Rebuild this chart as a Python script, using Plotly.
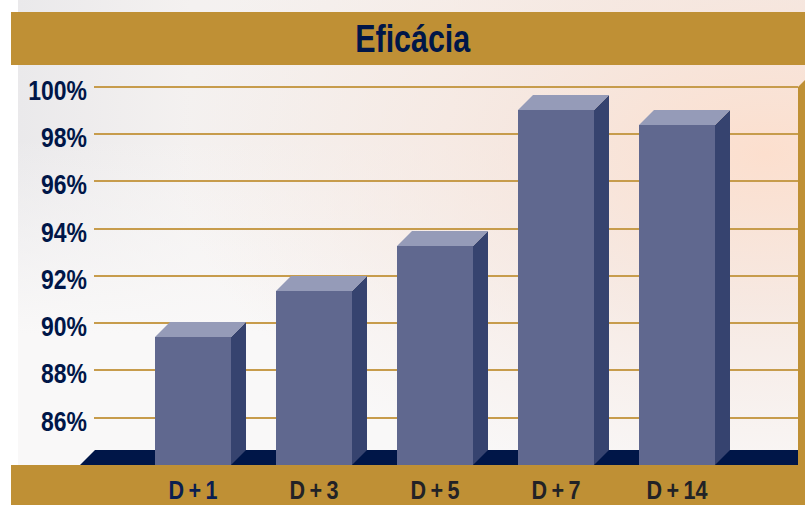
import base64
import plotly.graph_objects as go

categories = ["D+1", "D+3", "D+5", "D+7", "D+14"]
label_colors = ["#0B1E50", "#222226", "#222226", "#222226", "#222226"]
values = [89.42, 91.36, 93.27, 99.02, 98.39]
y_ticks = [86, 88, 90, 92, 94, 96, 98, 100]
y_labels = ["86%", "88%", "90%", "92%", "94%", "96%", "98%", "100%"]
title = "Eficácia"

W, H = 805, 505
L, R, T, B = 94, 798, 65, 465
PX_PER_CAT = 121.0
PX_PER_PCT = 23.63
CAT0_PX = 193.0
BASE = 84.0
BAR_WIDTH = 76 / PX_PER_CAT
DX = 15 / PX_PER_CAT
DY = 15 / PX_PER_PCT

GOLD = "#BF9035"
NAVY = "#001648"
FRONT = "#60688F"
TOP = "#959BB8"
SIDE = "#36436F"
FONT = "Liberation Sans"

xs = list(range(len(categories)))
fig = go.Figure()

fig.add_trace(go.Bar(x=xs, y=[v - BASE for v in values], base=BASE, width=BAR_WIDTH,
                     marker=dict(color=FRONT, line=dict(width=0)), hoverinfo="skip", showlegend=False))
for i, v in zip(xs, values):
    xr = i + BAR_WIDTH / 2
    xl = i - BAR_WIDTH / 2
    fig.add_trace(go.Scatter(x=[xr, xr + DX, xr + DX, xr, xr], y=[BASE, BASE + DY, v + DY, v, BASE],
                             mode="lines", fill="toself", fillcolor=SIDE, line=dict(width=0),
                             hoverinfo="skip", showlegend=False))
    fig.add_trace(go.Scatter(x=[xl, xl + DX, xr + DX, xr, xl], y=[v, v + DY, v + DY, v, v],
                             mode="lines", fill="toself", fillcolor=TOP, line=dict(width=0),
                             hoverinfo="skip", showlegend=False))

svg = f'''<svg xmlns="http://www.w3.org/2000/svg" width="{W}" height="{H}" viewBox="0 0 {W} {H}">
<defs>
<linearGradient id="a" x1="0" y1="0" x2="1" y2="0">
<stop offset="0" stop-color="#EAE9EB"/><stop offset="0.22" stop-color="#F4F1F0"/>
<stop offset="0.55" stop-color="#F6F1EE"/><stop offset="1" stop-color="#F4E8E1"/></linearGradient>
<linearGradient id="b" x1="0" y1="0" x2="0" y2="1">
<stop offset="0" stop-color="#F9F8F8" stop-opacity="0"/><stop offset="0.6" stop-color="#F9F8F8" stop-opacity="1"/><stop offset="1" stop-color="#F9F8F8" stop-opacity="1"/></linearGradient>
<radialGradient id="c" cx="0.95" cy="0.33" r="0.75">
<stop offset="0" stop-color="#FCDFCE" stop-opacity="1"/><stop offset="0.45" stop-color="#F6E6DE" stop-opacity="0.8"/>
<stop offset="1" stop-color="#F5E8E2" stop-opacity="0"/></radialGradient>
</defs>
<rect width="{W}" height="{H}" fill="url(#a)"/>
<rect x="0" y="150" width="{W}" height="355" fill="url(#b)"/>
<rect width="{W}" height="{H}" fill="url(#c)"/>
</svg>'''
uri = "data:image/svg+xml;base64," + base64.b64encode(svg.encode()).decode()


def qx(x):
    return (x - L) / (R - L)


def qy(y):
    return (B - y) / (B - T)


def qpath(pts):
    return "M " + " L ".join(f"{qx(a):.5f},{qy(b):.5f}" for a, b in pts) + " Z"


def band(pts, color, layer):
    return dict(type="path", path=qpath(pts), xref="paper", yref="paper", fillcolor=color,
                line=dict(width=0), layer=layer)


xticktext = [f'<b><span style="color:{col}">{c.replace("+", chr(0x2009) + "+" + chr(0x2009))}</span></b>'
             for c, col in zip(categories, label_colors)]

fig.update_layout(
    width=W, height=H, autosize=False,
    margin=dict(l=L, r=W - R, t=T, b=H - B, pad=0, autoexpand=False),
    paper_bgcolor="white", plot_bgcolor="rgba(0,0,0,0)",
    showlegend=False,
    xaxis=dict(range=[(L - CAT0_PX) / PX_PER_CAT, (R - CAT0_PX) / PX_PER_CAT],
               tickmode="array", tickvals=xs, ticktext=xticktext, tickangle=0,
               tickfont=dict(family=FONT, size=26, color="#222226"), automargin=False,
               showgrid=False, zeroline=False, showline=False, ticks="", ticklabelstandoff=7),
    yaxis=dict(range=[BASE, BASE + (B - T) / PX_PER_PCT], automargin=False,
               tickmode="array", tickvals=y_ticks, ticktext=[f"<b>{t}</b>" for t in y_labels],
               tickfont=dict(family=FONT, size=28, color=NAVY),
               showgrid=True, gridcolor="#C79C4C", gridwidth=2, zeroline=False, showline=False,
               ticks="", ticklabelstandoff=6, ticklabelshift=3),
    images=[dict(source=uri, xref="paper", yref="paper", x=qx(18), y=qy(0),
                 sizex=qx(W) - qx(18), sizey=qy(0) - qy(465),
                 xanchor="left", yanchor="top", sizing="stretch", layer="below")],
    shapes=[
        band([(80, 465), (95, 450), (R, 450), (R, 465)], NAVY, "between"),
        band([(11, 12), (W, 12), (W, 65), (11, 65)], GOLD, "between"),
        band([(11, 465), (W, 465), (W, H), (11, H)], GOLD, "below"),
        band([(R, 87), (W, 80), (W, 465), (R, 465)], GOLD, "between"),
    ],
    annotations=[dict(text=f"<b>{title}</b>", xref="paper", yref="paper", x=qx(413), y=qy(38.5),
                      xanchor="center", yanchor="middle", showarrow=False,
                      font=dict(family=FONT, size=39, color=NAVY))],
)

post = """
document.body.style.margin='0';
document.documentElement.style.overflow='hidden';
function squeeze(sel, k){
  document.querySelectorAll(sel).forEach(function(t){
    var n = t.getComputedTextLength();
    t.setAttribute('textLength', (n*k).toFixed(1));
    t.setAttribute('lengthAdjust','spacingAndGlyphs');
  });
}
squeeze('.xtick text', 0.83);
squeeze('.ytick text', 0.82);
squeeze('.annotation-text', 0.78);
"""
fig.write_html("out.html", config={"displayModeBar": False}, post_script=post)
